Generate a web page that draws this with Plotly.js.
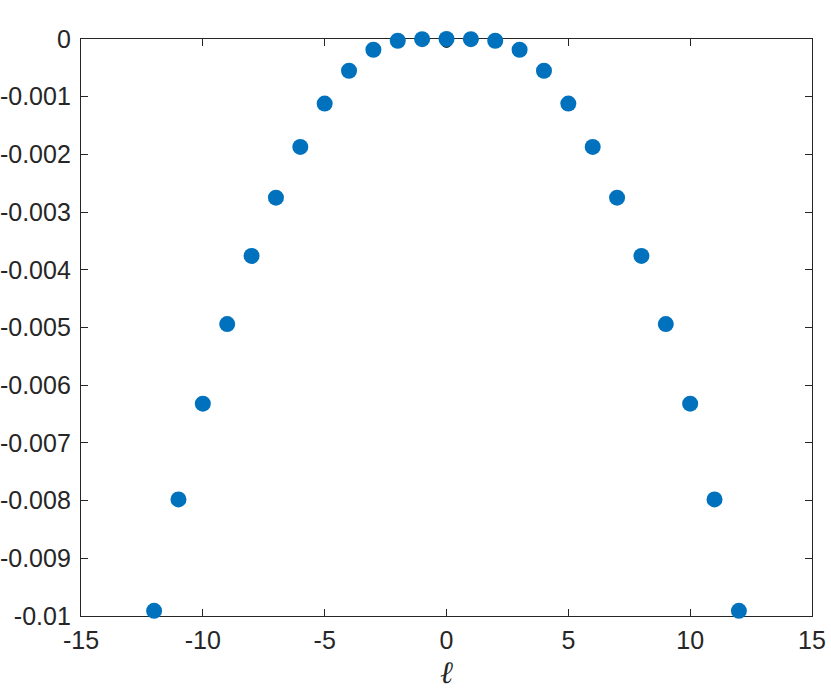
<!DOCTYPE html>
<html>
<head>
<meta charset="utf-8">
<script src="https://cdn.plot.ly/plotly-3.0.1.min.js"></script>
<style>html,body{margin:0;padding:0;background:#fff;}#chart{width:831px;height:690px;}</style>
</head>
<body>
<div id="chart"></div>
<script>
const ell = [-12,-11,-10,-9,-8,-7,-6,-5,-4,-3,-2,-1,0,1,2,3,4,5,6,7,8,9,10,11,12];
const values = [-0.00991,-0.00798,-0.00632,-0.00494,-0.00376,-0.00275,-0.00187,-0.00112,-0.00055,-0.000186,-0.00003,-0.000003,0,-0.000003,-0.00003,-0.000186,-0.00055,-0.00112,-0.00187,-0.00275,-0.00376,-0.00494,-0.00632,-0.00798,-0.00991];
const blackX = [0];
const blackY = [-0.00006];
const xTicks = [-15,-10,-5,0,5,10,15];
const xTickText = ['-15','-10','-5','0','5','10','15'];
const yTicks = [-0.01,-0.009,-0.008,-0.007,-0.006,-0.005,-0.004,-0.003,-0.002,-0.001,0];
const yTickText = ['-0.01','-0.009','-0.008','-0.007','-0.006','-0.005','-0.004','-0.003','-0.002','-0.001','0'];

const traces = [
  {x: blackX, y: blackY, type:'scatter', mode:'markers', cliponaxis:false,
   marker:{color:'#222222', size:11}, hoverinfo:'skip'},
  {x: ell, y: values, type:'scatter', mode:'markers', cliponaxis:false,
   marker:{color:'#0072BD', size:16, line:{width:0}}}
];
const axisCommon = {
  showline:true, linecolor:'#262626', linewidth:1.2, mirror:'ticks',
  ticks:'inside', ticklen:7, tickwidth:1, tickcolor:'#262626',
  showgrid:false, zeroline:false, layer:'below traces',
  tickfont:{family:'Liberation Sans, Arial, sans-serif', size:25, color:'#262626'}
};
const layout = {
  width:831, height:690,
  margin:{l:81, r:19, t:39, b:74},
  paper_bgcolor:'#ffffff', plot_bgcolor:'#ffffff',
  showlegend:false,
  xaxis: Object.assign({}, axisCommon, {
    range:[-15,15], tickmode:'array', tickvals:xTicks, ticktext:xTickText, ticklabelstandoff:2,
    title:{text:'<i>ℓ</i>', font:{family:'DejaVu Serif, serif', size:31, color:'#262626'}, standoff:10}
  }),
  yaxis: Object.assign({}, axisCommon, {
    range:[-0.01,0], tickmode:'array', tickvals:yTicks, ticktext:yTickText, ticklabelstandoff:4
  })
};
Plotly.newPlot('chart', traces, layout, {staticPlot:true, displayModeBar:false});
</script>
</body>
</html>
